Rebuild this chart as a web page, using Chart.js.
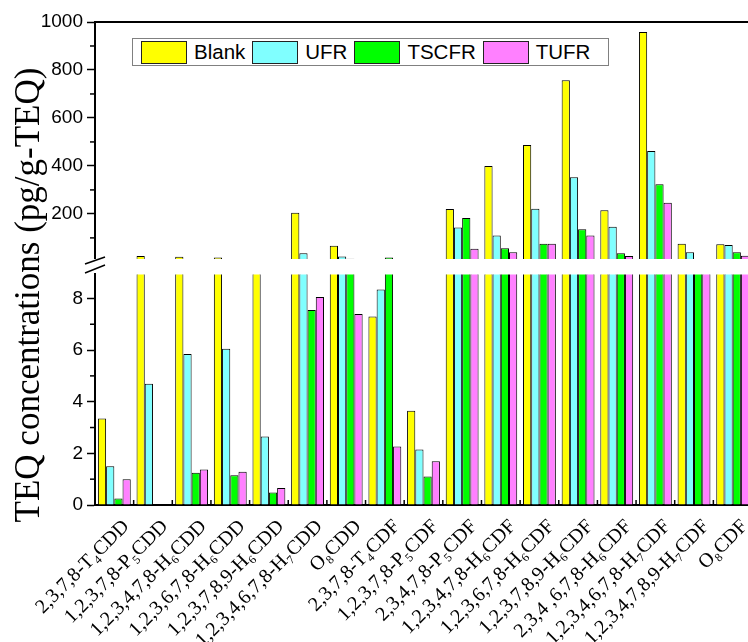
<!DOCTYPE html>
<html><head><meta charset="utf-8">
<script src="https://cdn.jsdelivr.net/npm/chart.js@4.4.0/dist/chart.umd.min.js"></script>
<style>
html,body{margin:0;padding:0;background:#fff;overflow:hidden;}
#wrap{position:relative;width:748px;height:642px;overflow:hidden;background:#fff;}
#up{position:absolute;left:0;top:0;}
#low{position:absolute;left:0;top:259px;}
#ytitle{position:absolute;left:-222px;top:275px;width:500px;height:40px;line-height:40px;text-align:center;transform:rotate(-90deg);font-family:"Liberation Serif","Times New Roman",serif;font-size:35px;color:#000;white-space:nowrap;}
#legend{position:absolute;left:132px;top:38px;width:477px;height:28px;box-sizing:border-box;border:1px solid #808080;background:#fff;display:flex;align-items:center;padding:0 0 0 8px;font-family:"Liberation Sans",Arial,sans-serif;font-size:20.5px;color:#000;}
#legend .sw{width:46px;height:23px;box-sizing:border-box;border:1px solid #222;margin-right:7px;}
#legend .lb{margin-right:7px;}
#brk{position:absolute;left:0;top:0;pointer-events:none;}
</style></head>
<body>
<div id="wrap">
  <canvas id="up" width="752" height="259"></canvas>
  <canvas id="low" width="752" height="383"></canvas>
  <div id="ytitle">TEQ concentrations (pg/g-TEQ)</div>
  <div id="legend"></div>
  <svg id="brk" width="748" height="642">
    <line x1="85" y1="264" x2="105" y2="257" stroke="#000" stroke-width="1.5"/>
    <line x1="85" y1="273" x2="105" y2="265" stroke="#000" stroke-width="1.5"/>
  </svg>
</div>
<script>
const categories = ["2,3,7,8-T\u2084CDD","1,2,3,7,8-P\u2085CDD","1,2,3,4,7,8-H\u2086CDD","1,2,3,6,7,8-H\u2086CDD","1,2,3,7,8,9-H\u2086CDD","1,2,3,4,6,7,8-H\u2087CDD","O\u2088CDD","2,3,7,8-T\u2084CDF","1,2,3,7,8-P\u2085CDF","2,3,4,7,8-P\u2085CDF","1,2,3,4,7,8-H\u2086CDF","1,2,3,6,7,8-H\u2086CDF","1,2,3,7,8,9-H\u2086CDF","2,3,4 ,6,7,8-H\u2086CDF","1,2,3,4,6,7,8-H\u2087CDF","1,2,3,4,7,8,9-H\u2087CDF","O\u2088CDF"];
const seriesNames = ["Blank","UFR","TSCFR","TUFR"];
const seriesColors = ["#FFFF00","#80FFFF","#00FF00","#FF80FF"];
const blank = [3.35, 25, 21, 18, 11, 205, 67, 7.3, 3.65, 220, 400, 487, 757, 215, 958, 76, 74];
const ufr   = [1.5, 4.7, 5.85, 6.05, 2.65, 36, 22, 8.35, 2.15, 143, 110, 222, 353, 146, 462, 40, 70];
const tscfr = [0.25, 0, 1.25, 1.15, 0.48, 7.55, 13, 18, 1.1, 183, 57, 76, 136, 36, 324, 9.5, 40];
const tufr  = [1.0, 0, 1.37, 1.29, 0.66, 8.05, 7.4, 2.27, 1.69, 55, 40, 76, 110, 25, 246, 11, 26];
const upperTicks = [200, 400, 600, 800, 1000];
const upperMinor = [100, 300, 500, 700, 900];
const lowerTicks = [0, 2, 4, 6, 8];
const lowerMinor = [1, 3, 5, 7];
const upperRange = [12, 1000];
const lowerRange = [0, 8.93];

const series = [blank, ufr, tscfr, tufr];

// legend
const lg = document.getElementById('legend');
seriesNames.forEach((n, i) => {
  const sw = document.createElement('span'); sw.className = 'sw'; sw.style.background = seriesColors[i];
  const lb = document.createElement('span'); lb.className = 'lb'; lb.textContent = n;
  lg.appendChild(sw); lg.appendChild(lb);
});

const minorTicksPlugin = {
  id: 'minorTicks',
  afterDraw(chart, args, opts) {
    const y = chart.scales.y, ctx = chart.ctx, left = chart.chartArea.left;
    ctx.save(); ctx.strokeStyle = '#000'; ctx.lineWidth = 1.5;
    (opts.values || []).forEach(v => {
      const p = y.getPixelForValue(v);
      ctx.beginPath(); ctx.moveTo(left - 5, p); ctx.lineTo(left, p); ctx.stroke();
    });
    ctx.restore();
  }
};
const framePlugin = {
  id: 'frame',
  afterDraw(chart, args, opts) {
    const ctx = chart.ctx, a = chart.chartArea;
    ctx.save(); ctx.strokeStyle = '#000'; ctx.lineWidth = 2;
    if (opts.top) { ctx.beginPath(); ctx.moveTo(a.left - 1, a.top); ctx.lineTo(chart.width, a.top); ctx.stroke(); }
    if (opts.xTicks) {
      const x = chart.scales.x; ctx.lineWidth = 1.5;
      for (let i = 1; i < categories.length; i++) {
        const px = (x.getPixelForValue(i - 1) + x.getPixelForValue(i)) / 2;
        ctx.beginPath(); ctx.moveTo(px, a.bottom); ctx.lineTo(px, a.bottom - 5); ctx.stroke();
      }
    }
    ctx.restore();
  }
};

function makeChart(id, part) {
  const isUp = part === 'up';
  const range = isUp ? upperRange : lowerRange;
  const ticksArr = isUp ? upperTicks : lowerTicks;
  const datasets = series.map((s, i) => ({
    label: seriesNames[i],
    data: isUp ? s.map(v => v > range[0] ? v : null) : s.slice(),
    backgroundColor: seriesColors[i],
    borderColor: '#000',
    borderWidth: 1,
    clip: 0
  }));
  return new Chart(document.getElementById(id), {
    type: 'bar',
    data: { labels: categories, datasets },
    plugins: [minorTicksPlugin, framePlugin],
    options: {
      responsive: false, animation: false,
      layout: { padding: { top: isUp ? 22 : 8, left: 0, right: 0, bottom: 0 } },
      datasets: { bar: { categoryPercentage: 0.85, barPercentage: 1.0 } },
      plugins: {
        legend: { display: false }, tooltip: { enabled: false },
        minorTicks: { values: isUp ? upperMinor : lowerMinor },
        frame: { top: isUp, xTicks: !isUp }
      },
      scales: {
        x: {
          display: !isUp, offset: true,
          grid: { display: false },
          border: { display: true, color: '#000', width: 2 },
          ticks: { autoSkip: false, maxRotation: 45, minRotation: 45, padding: 2, labelOffset: 12, color: '#000',
                   font: { family: "'Liberation Serif','Times New Roman',serif", size: 20 } },
          afterFit: s => { s.height = isUp ? 0 : 137; }
        },
        y: {
          min: range[0], max: range[1],
          afterBuildTicks: s => { s.ticks = ticksArr.map(v => ({ value: v })); },
          grid: { drawOnChartArea: false, drawTicks: true, tickLength: 8, tickWidth: 1.5, tickColor: '#000' },
          border: { display: true, color: '#000', width: 2 },
          ticks: { color: '#000', padding: 4, callback: v => String(v),
                   font: { family: "'Liberation Sans',Arial,sans-serif", size: 19 } },
          afterFit: s => { s.width = 95; if (isUp) { s.paddingBottom = 0; s.paddingTop = 0; } }
        }
      }
    }
  });
}
makeChart('up', 'up');
makeChart('low', 'low');
</script>
</body></html>
